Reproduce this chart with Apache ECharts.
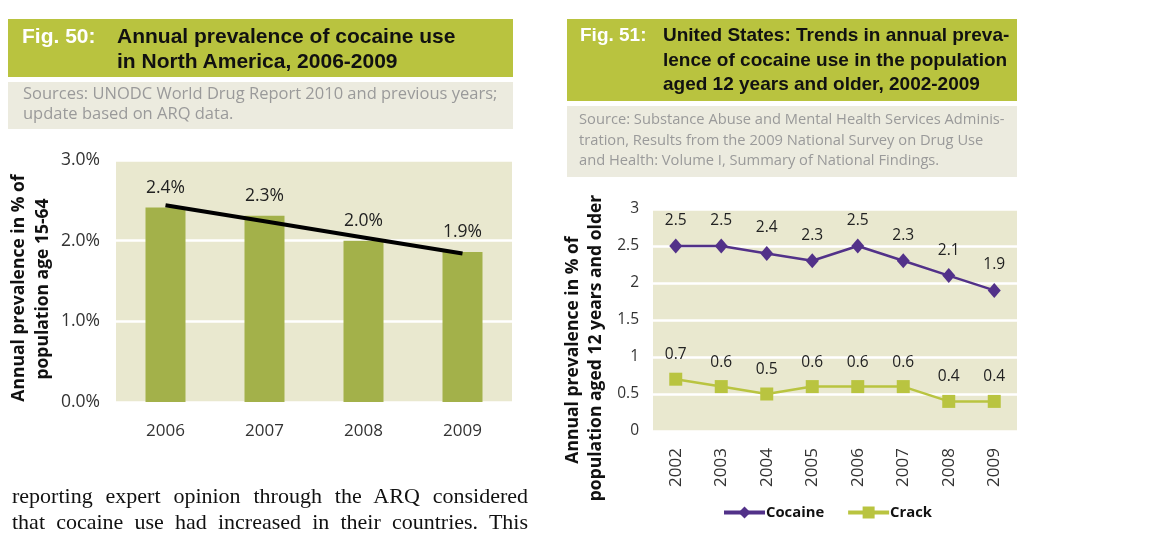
<!DOCTYPE html>
<html>
<head>
<meta charset="utf-8">
<script src="https://cdn.jsdelivr.net/npm/echarts@6/dist/echarts.min.js"></script>
<style>
  html, body { margin: 0; padding: 0; background: #fff; }
  #wrap { position: relative; width: 1164px; height: 544px; overflow: hidden; }
  #chart { position: absolute; left: 0; top: 0; width: 1164px; height: 544px; }
  .hdr { position: absolute; background: #b9c33f; font-family: "Liberation Sans", Arial, sans-serif; font-weight: bold; color: #111; }
  .hdr .fig { position: absolute; color: #fff; }
  .hdr .ttl { position: absolute; }
  .src { position: absolute; background: #ecebdf; font-family: "Open Sans", sans-serif; color: #9a9a9a; }
  .src div { position: absolute; white-space: nowrap; }
  #body { position: absolute; left: 12px; top: 483px; width: 516px; font-family: "Liberation Serif", serif; font-size: 22px; line-height: 26px; color: #111; text-align: justify; text-align-last: justify; }
</style>
</head>
<body>
<div id="wrap">
  <div id="chart"></div>

  <div class="hdr" style="left:8px;top:19px;width:505px;height:58px;font-size:21px;">
    <div class="fig" style="left:14px;top:4px;line-height:25px;">Fig. 50:</div>
    <div class="ttl" style="left:109px;top:4px;line-height:25px;">Annual prevalence of cocaine use<br>in North America, 2006-2009</div>
  </div>
  <div class="src" style="left:8px;top:82px;width:505px;height:47px;font-size:16.5px;">
    <div style="left:15px;top:1px;line-height:20px;">Sources: UNODC World Drug Report 2010 and previous years;<br>update based on ARQ data.</div>
  </div>

  <div class="hdr" style="left:567px;top:19px;width:450px;height:82px;font-size:19px;">
    <div class="fig" style="left:13px;top:4px;line-height:24.5px;">Fig. 51:</div>
    <div class="ttl" style="left:96px;top:4px;line-height:24.5px;">United States: Trends in annual preva-<br>lence of cocaine use in the population<br>aged 12 years and older, 2002-2009</div>
  </div>
  <div class="src" style="left:567px;top:106px;width:450px;height:71px;font-size:14.7px;">
    <div style="left:12px;top:2px;line-height:20.5px;">Source: Substance Abuse and Mental Health Services Adminis-<br>tration, Results from the 2009 National Survey on Drug Use<br>and Health: Volume I, Summary of National Findings.</div>
  </div>

  <div id="body">reporting expert opinion through the ARQ considered<br>that cocaine use had increased in their countries. This</div>
</div>
<script>
// ---- Fig. 50 data ----
var years50 = ['2006', '2007', '2008', '2009'];
var prevalence50 = [2.41, 2.31, 2.0, 1.86];
var labels50 = ['2.4%', '2.3%', '2.0%', '1.9%'];
var trend50 = [2.44, 2.24, 2.04, 1.84];
var yTicks50 = ['0.0%', '1.0%', '2.0%', '3.0%'];

// ---- Fig. 51 data ----
var years51 = ['2002', '2003', '2004', '2005', '2006', '2007', '2008', '2009'];
var cocaine51 = [2.5, 2.5, 2.4, 2.3, 2.5, 2.3, 2.1, 1.9];
var crack51 = [0.7, 0.6, 0.5, 0.6, 0.6, 0.6, 0.4, 0.4];

var plotBg = '#e9e8cf';
var axisFont = 'Open Sans';

var chart = echarts.init(document.getElementById('chart'), null, { renderer: 'canvas' });
chart.setOption({
  animation: false,
  textStyle: { fontFamily: axisFont },
  grid: [
    { left: 116, top: 160, width: 396, height: 242, show: true, backgroundColor: plotBg, borderWidth: 0 },
    { left: 653, top: 209, width: 364, height: 222, show: true, backgroundColor: plotBg, borderWidth: 0 }
  ],
  xAxis: [
    {
      gridIndex: 0, type: 'category', data: years50,
      axisLine: { show: false }, axisTick: { show: false },
      axisLabel: { margin: 21, fontSize: 17, color: '#333', fontFamily: axisFont }
    },
    {
      gridIndex: 1, type: 'category', data: years51,
      axisLine: { show: false }, axisTick: { show: false },
      axisLabel: { rotate: 90, margin: 17, fontSize: 17, color: '#333', fontFamily: axisFont }
    }
  ],
  yAxis: [
    {
      gridIndex: 0, type: 'value', min: 0, max: 3, interval: 1,
      axisLine: { show: false }, axisTick: { show: false },
      splitLine: { show: true, lineStyle: { color: '#fff', width: 2.5 } },
      axisLabel: {
        margin: 16, fontSize: 17.5, color: '#333', fontFamily: axisFont,
        formatter: function (v) { return yTicks50[Math.round(v)]; }
      }
    },
    {
      gridIndex: 1, type: 'value', min: 0, max: 3, interval: 0.5,
      axisLine: { show: false }, axisTick: { show: false },
      splitLine: { show: true, lineStyle: { color: '#fff', width: 2.5 } },
      axisLabel: { margin: 14, fontSize: 15.5, color: '#333', fontFamily: axisFont }
    }
  ],
  legend: {
    left: 722, top: 505, padding: 0,
    itemWidth: 41, itemHeight: 15, itemGap: 22,
    data: ['Cocaine', 'Crack'],
    lineStyle: { width: 4 },
    textStyle: { fontSize: 14.8, fontWeight: 'bold', color: '#111', fontFamily: axisFont, padding: [0, 0, 0, -4] }
  },
  series: [
    {
      name: 'Prevalence', type: 'bar', xAxisIndex: 0, yAxisIndex: 0,
      data: prevalence50, barWidth: 40,
      itemStyle: { color: '#a3b14a' },
      label: {
        show: true, position: 'top', distance: 11,
        fontSize: 17.5, color: '#222', fontFamily: axisFont,
        formatter: function (p) { return labels50[p.dataIndex]; }
      }
    },
    {
      name: 'Trend', type: 'line', xAxisIndex: 0, yAxisIndex: 0,
      data: trend50, symbol: 'none', z: 5,
      lineStyle: { color: '#000', width: 4 }
    },
    {
      name: 'Cocaine', type: 'line', xAxisIndex: 1, yAxisIndex: 1,
      data: cocaine51, symbol: 'diamond', symbolSize: [13, 15],
      itemStyle: { color: '#523189' },
      lineStyle: { color: '#523189', width: 2.5 },
      label: { show: true, position: 'top', distance: 10, fontSize: 15.5, color: '#222', fontFamily: axisFont }
    },
    {
      name: 'Crack', type: 'line', xAxisIndex: 1, yAxisIndex: 1,
      data: crack51, symbol: 'rect', symbolSize: 13,
      itemStyle: { color: '#b9c440' },
      lineStyle: { color: '#b9c440', width: 2.5 },
      label: { show: true, position: 'top', distance: 10, fontSize: 15.5, color: '#222', fontFamily: axisFont }
    }
  ],
  graphic: [
    { type: 'text', x: 19, y: 288, rotation: Math.PI / 2,
      style: { text: 'Annual prevalence in % of', font: 'bold 17.5px "Open Sans"', fill: '#111', align: 'center', verticalAlign: 'middle' } },
    { type: 'text', x: 43, y: 289, rotation: Math.PI / 2,
      style: { text: 'population age 15-64', font: 'bold 17.5px "Open Sans"', fill: '#111', align: 'center', verticalAlign: 'middle' } },
    { type: 'text', x: 573, y: 350, rotation: Math.PI / 2,
      style: { text: 'Annual prevalence in % of', font: 'bold 17.5px "Open Sans"', fill: '#111', align: 'center', verticalAlign: 'middle' } },
    { type: 'text', x: 596, y: 348, rotation: Math.PI / 2,
      style: { text: 'population aged 12 years and older', font: 'bold 17.5px "Open Sans"', fill: '#111', align: 'center', verticalAlign: 'middle' } }
  ]
});
</script>
</body>
</html>
